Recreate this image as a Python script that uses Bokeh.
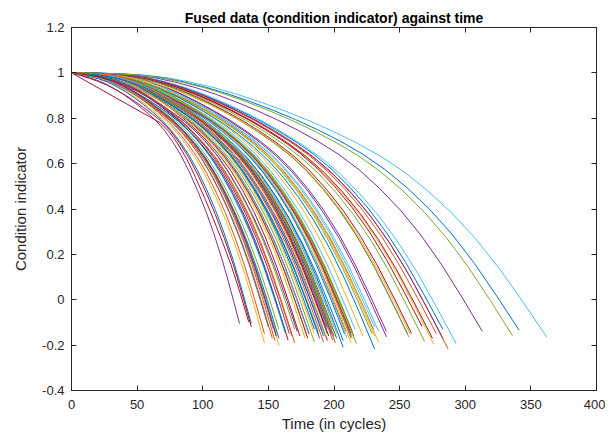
import numpy as np
from bokeh.plotting import figure
from bokeh.models import FixedTicker, LinearAxis, Range1d, ColumnDataSource
from bokeh.embed import file_html
from bokeh.resources import INLINE

# Lifetime (last cycle) of each engine, in plotting order
lifetimes = [192, 287, 179, 189, 269, 188, 259, 150, 201, 222,
             240, 170, 163, 180, 207, 209, 276, 195, 158, 234,
             195, 202, 168, 147, 230, 199, 156, 165, 163, 194,
             234, 191, 200, 195, 181, 158, 170, 194, 128, 188,
             216, 196, 207, 192, 158, 256, 214, 231, 215, 198,
             213, 213, 195, 257, 193, 275, 137, 147, 231, 172,
             185, 180, 174, 283, 153, 202, 313, 199, 362, 137,
             208, 213, 213, 166, 229, 210, 154, 231, 199, 185,
             240, 214, 293, 267, 188, 278, 178, 213, 217, 154,
             135, 341, 155, 258, 283, 336, 202, 156, 185, 200]

# Condition indicator value at the last cycle of each engine
end_values = [-0.16, -0.218, -0.15, -0.17, -0.184, -0.14, -0.148, -0.12, -0.19, -0.16,
              -0.164, -0.13, -0.15, -0.17, -0.21, -0.14, -0.196, -0.15, -0.13, -0.14,
              -0.18, -0.17, -0.16, -0.19, -0.13, -0.16, -0.15, -0.178, -0.14, -0.12,
              -0.189, -0.14, -0.17, -0.13, -0.15, -0.17, -0.19, -0.16, -0.105, -0.15,
              -0.13, -0.16, -0.18, -0.186, -0.20, -0.15, -0.14, -0.12, -0.16, -0.15,
              -0.17, -0.14, -0.12, -0.164, -0.16, -0.17, -0.105, -0.15, -0.16, -0.14,
              -0.186, -0.14, -0.16, -0.131, -0.17, -0.15, -0.139, -0.13, -0.164, -0.12,
              -0.15, -0.16, -0.19, -0.15, -0.15, -0.17, -0.13, -0.218, -0.178, -0.15,
              -0.14, -0.17, -0.193, -0.117, -0.15, -0.15, -0.17, -0.15, -0.193, -0.13,
              -0.098, -0.134, -0.18, -0.15, -0.17, -0.158, -0.14, -0.16, -0.13, -0.16]

# Share of the early-drop shape in each engine's curve (0 = late drop)
early_share = [0.1, 0.0, 0.2, 0.1, 0.0, 0.2, 0.0, 0.3, 0.1, 0.0,
               0.0, 0.2, 0.3, 0.1, 0.0, 0.2, 0.0, 0.1, 0.3, 0.0,
               0.2, 0.1, 0.2, 0.3, 0.1, 0.0, 0.2, 0.1, 0.3, 0.1,
               0.0, 0.2, 0.0, 0.1, 0.2, 0.3, 0.1, 0.0, 0.4, 0.2,
               0.1, 0.0, 0.2, 0.1, 0.2, 0.0, 0.1, 0.0, 0.2, 0.1,
               0.0, 0.2, 0.1, 0.0, 0.2, 0.0, 0.3, 0.2, 0.1, 0.3,
               0.1, 0.2, 0.0, 0.0, 0.3, 0.1, 0.0, 0.2, 0.0, 0.5,
               0.1, 0.2, 0.0, 0.2, 0.1, 0.0, 0.3, 0.1, 0.2, 0.1,
               0.0, 0.1, 0.0, 0.0, 0.2, 0.0, 0.1, 0.2, 0.0, 0.3,
               1.0, 0.0, 0.2, 0.1, 0.0, 0.0, 0.1, 0.2, 0.1, 0.0]

# Normalised drop (share of total decline) at fractions of each engine's life
life_fraction = [0.0, 0.05, 0.10, 0.15, 0.20, 0.25, 0.30, 0.35, 0.40, 0.45, 0.50,
                 0.55, 0.60, 0.65, 0.70, 0.75, 0.80, 0.85, 0.90, 0.95, 1.0]
drop_late = [0.0, 0.0007, 0.003, 0.008, 0.018, 0.035, 0.056, 0.082, 0.112, 0.145, 0.181,
             0.221, 0.265, 0.315, 0.375, 0.447, 0.53, 0.627, 0.74, 0.867, 1.0]
drop_early = [0.0, 0.02, 0.04, 0.06, 0.08, 0.10, 0.12, 0.14, 0.16, 0.18, 0.20,
              0.235, 0.285, 0.345, 0.42, 0.50, 0.585, 0.675, 0.77, 0.88, 1.0]

start_value = 1.0

line_colors = ["#0072BD", "#D95319", "#EDB120", "#7E2F8E", "#77AC30", "#4DBEEE", "#A2142F"]

x_ticks = [0, 50, 100, 150, 200, 250, 300, 350, 400]
y_ticks = [-0.4, -0.2, 0, 0.2, 0.4, 0.6, 0.8, 1.0, 1.2]
y_tick_labels = ["-0.4", "-0.2", "0", "0.2", "0.4", "0.6", "0.8", "1", "1.2"]

frac = np.array(life_fraction)
dl = np.array(drop_late)
de = np.array(drop_early)
xs, ys, cs = [], [], []
for i, (T, E, w) in enumerate(zip(lifetimes, end_values, early_share)):
    xs.append(list(frac * T))
    ys.append(list(start_value - ((1 - w) * dl + w * de) * (start_value - E)))
    cs.append(line_colors[i % len(line_colors)])

src = ColumnDataSource(dict(xs=xs, ys=ys, color=cs))

AX = "#262626"
FONT = "Liberation Sans"

p = figure(width=605, height=437, output_backend="svg", toolbar_location=None,
           x_range=Range1d(0, 400), y_range=Range1d(-0.4, 1.2),
           min_border_left=71, min_border_right=9, min_border_top=27, min_border_bottom=47,
           title="Fused data (condition indicator) against time")
p.title.align = "center"
p.title.text_font = FONT
p.title.text_font_size = "14px"
p.title.text_font_style = "bold"
p.title.text_color = "black"
p.title.standoff = 3
p.xgrid.visible = False
p.ygrid.visible = False
p.outline_line_color = AX
p.background_fill_color = "white"
p.border_fill_color = "white"

p.multi_line(xs="xs", ys="ys", line_color="color", line_width=1, source=src)

def style(ax, ticks, show_labels=True):
    ax.ticker = FixedTicker(ticks=ticks)
    ax.major_tick_in = 5
    ax.major_tick_out = 0
    ax.minor_tick_line_color = None
    ax.axis_line_color = AX
    ax.major_tick_line_color = AX
    ax.major_label_text_font = FONT
    ax.major_label_text_color = AX
    ax.axis_label_text_font = FONT
    ax.axis_label_text_color = AX
    ax.axis_label_text_font_style = "normal"
    ax.axis_label_text_font_size = "15px"
    ax.major_label_text_font_size = "13px"
    if not show_labels:
        ax.major_label_text_color = None
        ax.major_label_standoff = 0

xa = p.xaxis[0]
style(xa, x_ticks)
xa.axis_label = "Time (in cycles)"
xa.major_label_standoff = 9
xa.axis_label_standoff = 3

ya = p.yaxis[0]
style(ya, y_ticks)
ya.axis_label = "Condition indicator"
ya.major_label_standoff = 7
ya.axis_label_standoff = 10
ya.major_label_overrides = {t: l for t, l in zip(y_ticks, y_tick_labels)}

top = LinearAxis()
style(top, x_ticks, False)
p.add_layout(top, "above")
right = LinearAxis()
style(right, y_ticks, False)
p.add_layout(right, "right")

open("out.html", "w").write(file_html(p, INLINE))
